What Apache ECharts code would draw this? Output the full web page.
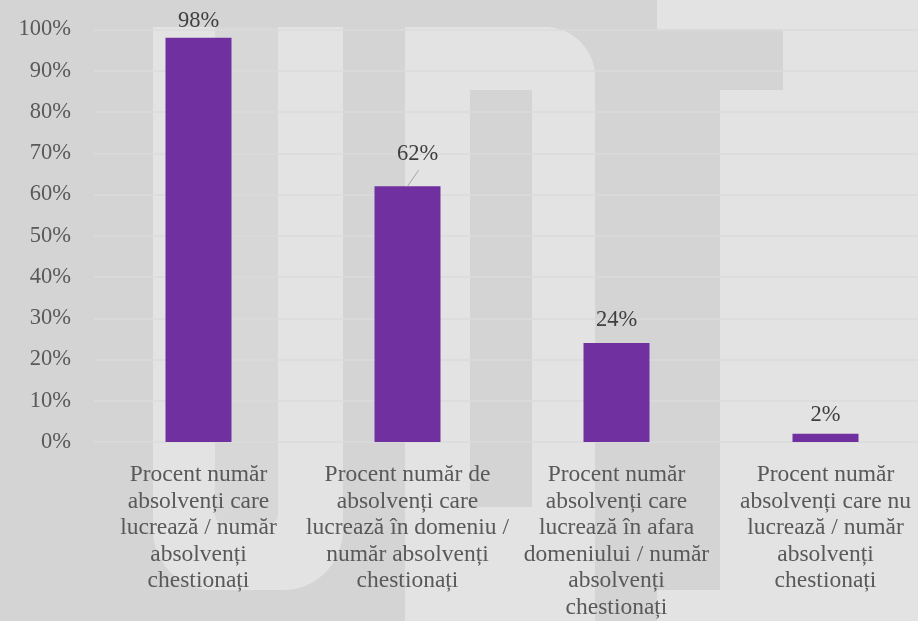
<!DOCTYPE html>
<html>
<head>
<meta charset="utf-8">
<script src="https://cdn.jsdelivr.net/npm/echarts@6/dist/echarts.min.js"></script>
<style>
html,body{margin:0;padding:0;background:#d4d4d4;}
#chart{width:918px;height:621px;}
</style>
</head>
<body>
<div id="chart"></div>
<script>
// ---- data ----
const categories = [
  "Procent număr\nabsolvenți care\nlucrează / număr\nabsolvenți\nchestionați",
  "Procent număr de\nabsolvenți care\nlucrează în domeniu /\nnumăr absolvenți\nchestionați",
  "Procent număr\nabsolvenți care\nlucrează în afara\ndomeniului / număr\nabsolvenți\nchestionați",
  "Procent număr\nabsolvenți care nu\nlucrează / număr\nabsolvenți\nchestionați"
];
const values = [98, 62, 24, 2];
const yTicks = { min: 0, max: 100, interval: 10 };

// ---- chart ----
const FONT = "'Liberation Serif','Times New Roman',serif";
const LIGHT = '#e3e3e3', DARK = '#d4d4d4';
const chart = echarts.init(document.getElementById('chart'), null, { renderer: 'canvas' });

function bgRect(x, y, w, h, fill, r) {
  return { type: 'rect', silent: true, z: -100, shape: { x: x, y: y, width: w, height: h, r: r || 0 }, style: { fill: fill } };
}
const bgElements = [
  bgRect(657, 0, 261, 621, LIGHT),
  bgRect(153, 27, 190, 563, LIGHT, [0, 0, 60, 60]),
  bgRect(215, 27, 63, 496, '#d7d7d7', [0, 0, 8, 8]),
  bgRect(405, 27, 190, 594, LIGHT, [0, 50, 0, 0]),
  bgRect(470, 90, 62, 417, DARK),
  bgRect(595, 29, 188, 61, DARK),
  bgRect(595, 29, 125, 561, DARK)
];

const option = {
  backgroundColor: DARK,
  animation: false,
  graphic: { elements: bgElements },
  grid: { left: 94, top: 29.5, width: 836, height: 412.5, containLabel: false, outerBoundsMode: 'none' },
  xAxis: {
    type: 'category',
    data: categories,
    axisLine: { show: false },
    axisTick: { show: false },
    axisLabel: {
      interval: 0,
      margin: 20,
      color: '#595959',
      fontFamily: FONT,
      fontSize: 23.5,
      lineHeight: 26.5,
      align: 'center',
      hideOverlap: false
    }
  },
  yAxis: {
    type: 'value',
    min: yTicks.min,
    max: yTicks.max,
    interval: yTicks.interval,
    axisLine: { show: false },
    axisTick: { show: false },
    splitLine: { lineStyle: { color: '#dbdbdb', width: 1.5 } },
    axisLabel: {
      formatter: '{value}%',
      margin: 23,
      color: '#595959',
      fontFamily: FONT,
      fontSize: 22.5
    }
  },
  series: [{
    type: 'bar',
    barWidth: 66,
    itemStyle: { color: '#7030A0' },
    data: values,
    label: {
      show: true,
      position: 'top',
      distance: 7,
      formatter: '{c}%',
      color: '#404040',
      fontFamily: FONT,
      fontSize: 22.5
    },
    labelLayout: function (p) {
      if (p.dataIndex === 0) return { dy: 2 };
      if (p.dataIndex === 1) return { dx: 10, dy: -14 };
      if (p.dataIndex === 2) return { dy: -4 };
      return {};
    }
  }]
};
chart.setOption(option);

// leader line for the moved 62% label, anchored through the chart's own scales
const anchor = chart.convertToPixel({ gridIndex: 0 }, [1, values[1]]);
chart.setOption({
  graphic: {
    elements: bgElements.concat([{
      type: 'line', silent: true, z: 10,
      shape: { x1: anchor[0], y1: anchor[1], x2: anchor[0] + 11, y2: anchor[1] - 16 },
      style: { stroke: '#a6a6a6', lineWidth: 1 }
    }])
  }
});
</script>
</body>
</html>
